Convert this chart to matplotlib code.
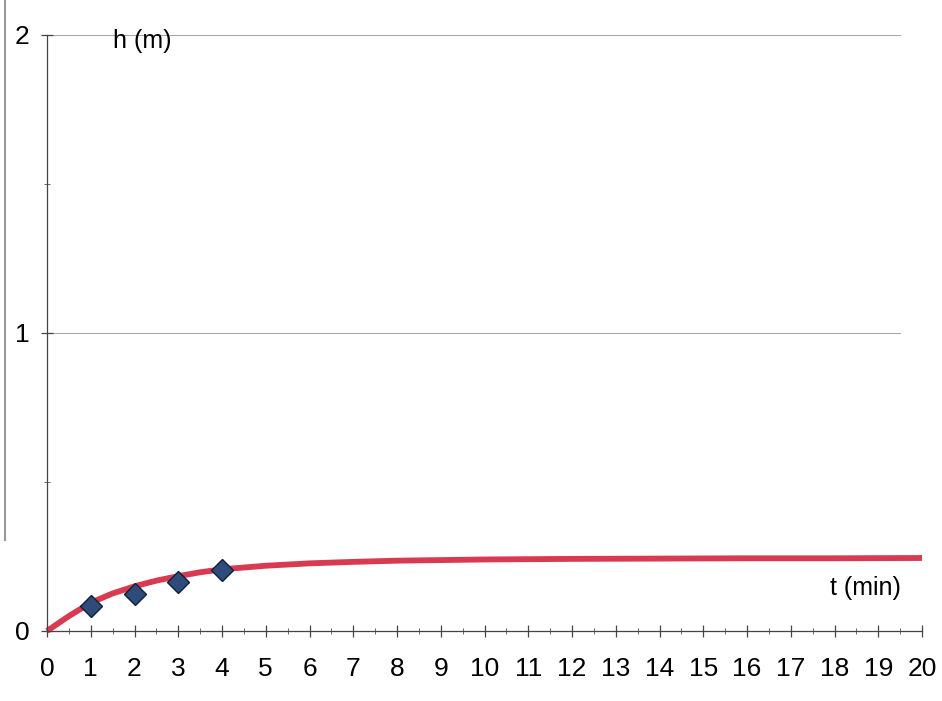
import matplotlib
matplotlib.use('Agg')
import matplotlib.pyplot as plt
from matplotlib.ticker import MultipleLocator

# data
t_meas = [1, 2, 3, 4]
h_meas = [0.085, 0.125, 0.165, 0.205]

t_fit = [0, 0.5, 1, 1.5, 2, 2.5, 3, 3.5, 4, 5, 6, 7, 8, 9, 10, 12, 14, 16, 18, 20]
h_fit = [0, 0.05, 0.095, 0.126, 0.15, 0.169, 0.184, 0.197, 0.207, 0.219, 0.227,
         0.232, 0.236, 0.238, 0.240, 0.242, 0.243, 0.244, 0.244, 0.245]

x_ticks = list(range(0, 21))
y_ticks = [0, 1, 2]

plt.rcParams['font.family'] = ['Liberation Sans Narrow', 'Liberation Sans', 'DejaVu Sans']

fig = plt.figure(figsize=(9.42, 7.01), dpi=100)
ax = fig.add_axes([47 / 942, 1 - 631 / 701, 875 / 942, 596 / 701])

ax.set_xlim(0, 20)
ax.set_ylim(0, 2)

for yv in y_ticks[1:]:
    ax.axhline(yv, xmax=0.975, color='#a8a8a8', lw=0.8, zorder=0)

ax.plot(t_fit, h_fit, color='#d83a52', lw=4.2, solid_capstyle='butt', zorder=2, clip_on=False)
ax.plot(t_meas, h_meas, 'D', ms=11, mfc='#2f4b7c', mec='#10203a', mew=1.0, zorder=3)

ax.spines['top'].set_visible(False)
ax.spines['right'].set_visible(False)
ax.spines['left'].set_color('#444444')
ax.spines['bottom'].set_color('#444444')
ax.spines['left'].set_linewidth(0.9)
ax.spines['bottom'].set_linewidth(0.9)

ax.set_xticks(x_ticks)
ax.set_yticks(y_ticks)
ax.xaxis.set_minor_locator(MultipleLocator(0.5))
ax.yaxis.set_minor_locator(MultipleLocator(0.5))
ax.tick_params(axis='both', which='major', direction='inout', length=9, width=0.9,
               color='#444444', labelsize=19)
ax.tick_params(axis='both', which='minor', direction='inout', length=5, width=0.7,
               color='#666666')
ax.tick_params(axis='x', which='major', pad=14)
ax.tick_params(axis='y', which='major', pad=8)

ax.text(1.5, 1.98, 'h (m)', fontsize=18, va='center', ha='left')
ax.text(17.9, 0.143, 't (min)', fontsize=18, va='center', ha='left')

# scan border on the left edge
fig.add_artist(plt.Line2D([5 / 942, 5 / 942], [1 - 540 / 701, 1.0], color='#999999', lw=1.5))

fig.savefig('out.png', dpi=100)
